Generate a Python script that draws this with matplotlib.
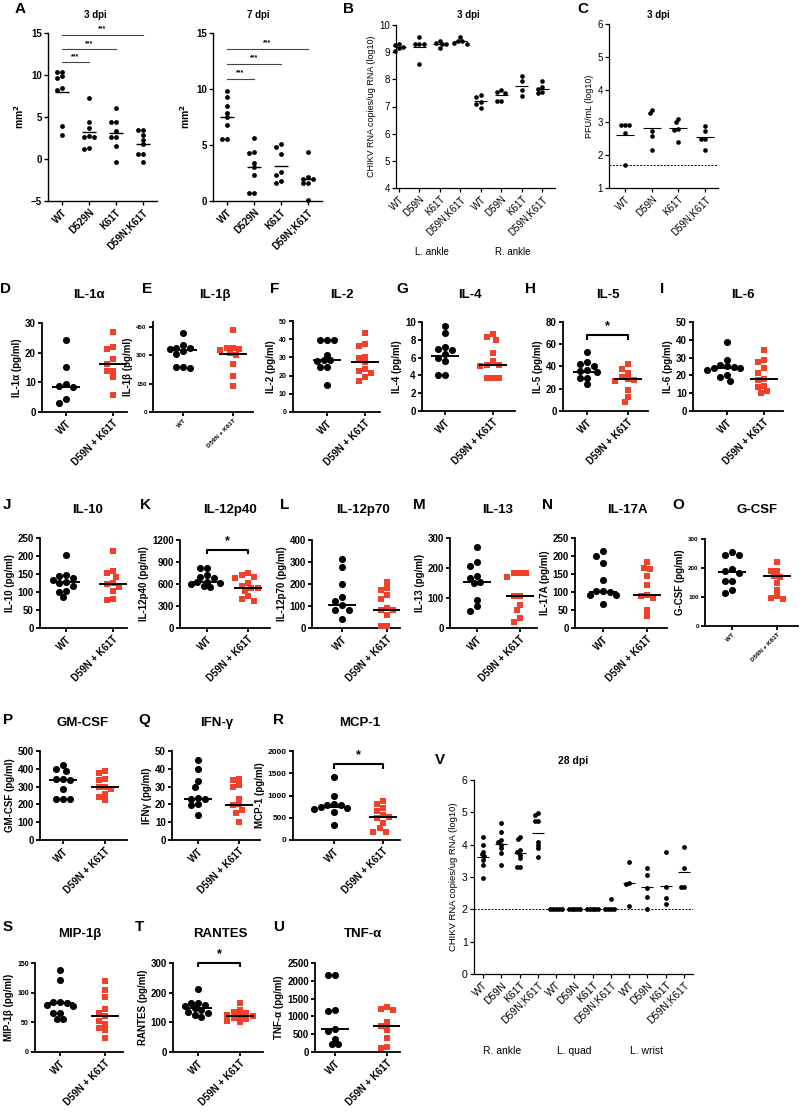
import numpy as np
import matplotlib.pyplot as plt

plt.rcParams['font.family'] = ['Liberation Sans', 'DejaVu Sans']

# ---------------- data ----------------
# A: lesion area (mm2)
a_groups = ['WT', 'D529N', 'K61T', 'D59N;K61T']
a3_wt = [10.4, 10.3, 9.9, 9.7, 8.4, 8.2, 3.9, 2.9]
a3_d529n = [7.3, 4.4, 3.7, 2.7, 2.6, 2.6, 1.3, 1.2]
a3_k61t = [6.1, 4.4, 4.4, 3.3, 2.6, 2.6, 1.6, -0.4]
a3_dk = [3.5, 3.5, 2.9, 2.3, 1.8, 0.6, 0.6, -0.3]
a3_mid = [8.0, 3.2, 3.1, 1.8]
a3_sig = [11.5, 13.1, 14.8]
a7_wt = [9.8, 9.3, 8.5, 7.9, 7.5, 6.8, 5.5, 5.5]
a7_d529n = [5.6, 4.4, 4.3, 3.4, 3.0, 2.3, 0.7, 0.7]
a7_k61t = [5.1, 4.8, 4.2, 2.6, 2.3, 1.8, 1.6]
a7_dk = [4.4, 2.1, 2.0, 2.0, 1.6, 1.6, 0.1]
a7_mid = [7.5, 3.05, 3.1, 2.0]
a7_sig = [10.9, 12.25, 13.6]

# B: CHIKV RNA 3 dpi
bc_groups = ['WT', 'D59N', 'K61T', 'D59N;K61T']
b_l_wt = [9.25, 9.3, 9.15, 9.05, 9.2]
b_l_d59n = [9.55, 9.3, 9.3, 9.3, 8.55]
b_l_k61t = [9.3, 9.42, 9.3, 9.15, 9.35]
b_l_dk = [9.55, 9.42, 9.35, 9.4, 9.3]
b_r_wt = [7.42, 7.35, 7.15, 7.1, 6.95]
b_r_d59n = [7.6, 7.55, 7.5, 7.22, 7.2]
b_r_k61t = [8.12, 7.93, 7.6, 7.4]
b_r_dk = [7.95, 7.7, 7.65, 7.55, 7.48]
b_mid = [9.2, 9.2, 9.3, 9.4, 7.2, 7.43, 7.77, 7.65]

# C: PFU 3 dpi
c_wt = [2.91, 2.91, 2.91, 2.68, 1.71]
c_d59n = [3.39, 3.29, 2.74, 2.59, 2.17]
c_k61t = [3.1, 3.0, 2.8, 2.78, 2.4]
c_dk = [2.9, 2.74, 2.5, 2.5, 2.17]
c_mid = [2.63, 2.84, 2.82, 2.56]
c_limit = 1.71

# V: CHIKV RNA 28 dpi
v_ra_wt = [4.23, 3.98, 3.78, 3.71, 3.65, 3.53, 3.36, 2.96]
v_ra_d59n = [4.66, 4.4, 4.14, 4.09, 3.99, 3.89, 3.73, 3.37]
v_ra_k61t = [4.23, 4.16, 3.84, 3.78, 3.68, 3.58, 3.3, 3.3]
v_ra_dk = [4.97, 4.92, 4.73, 4.73, 4.09, 3.99, 3.89, 3.63]
v_lq_wt = [2.0, 2.0, 2.0, 2.0, 2.0]
v_lq_d59n = [2.0, 2.0, 2.0, 2.0, 2.0]
v_lq_k61t = [2.0, 2.0, 2.0, 2.0, 2.0]
v_lq_dk = [2.31, 2.0, 2.0, 2.0, 2.0]
v_lw_wt = [3.47, 2.8, 2.78, 2.1]
v_lw_d59n = [3.27, 3.06, 2.65, 2.37, 2.0]
v_lw_k61t = [3.78, 2.68, 2.34, 2.16]
v_lw_dk = [3.92, 3.27, 2.7, 2.7]
v_mid = [3.63, 4.03, 3.73, 4.37, 2.0, 2.0, 2.0, 2.05, 2.8, 2.68, 2.73, 3.16]
v_limit = 2.0

# D-U: cytokines (pg/ml), WT vs D59N + K61T
cyto_groups = ['WT', 'D59N + K61T']
il1a_wt = [24.2, 15.1, 9.5, 8.6, 8.4, 4.3, 3.2]
il1a_mut = [26.8, 22.0, 21.2, 17.8, 16.2, 13.9, 13.9, 11.9, 5.6]
il1a_mid = [8.4, 16.2]
il1b_wt = [415, 354, 340, 336, 330, 320, 305, 240, 236, 234]
il1b_mut = [432, 339, 339, 335, 326, 310, 300, 253, 192, 136]
il1b_mid = [326, 308]
il2_wt = [39.3, 39.3, 39.3, 31.5, 28.6, 28.4, 28.2, 24.9, 24.9, 14.6]
il2_mut = [43.4, 37.5, 36.2, 30.4, 29.5, 27.2, 23.4, 22.5, 21.2, 19.5, 17.2]
il2_mid = [28.4, 27.2]
il4_wt = [9.5, 8.8, 7.2, 7.0, 6.8, 6.4, 6.0, 5.6, 4.1, 4.1]
il4_mut = [8.6, 8.3, 8.0, 6.5, 5.6, 5.2, 5.15, 5.1, 3.7, 3.7, 3.7]
il4_mid = [6.2, 5.15]
il5_wt = [53, 44, 42, 40, 37, 36, 35, 30, 30, 24]
il5_mut = [42, 38, 34, 31, 28.5, 28, 27, 18.5, 13, 8]
il5_mid = [35, 28.5]
il6_wt = [39, 28.6, 26, 25, 24.5, 24.3, 24, 23, 20, 19, 17]
il6_mut = [34.5, 28.5, 27.5, 24, 21.5, 17.8, 17.5, 14, 13.5, 11, 10]
il6_mid = [24.3, 17.8]
il10_wt = [204, 148, 144, 140, 132, 128, 125, 116, 102, 100, 86]
il10_mut = [213, 157, 153, 143, 125, 123, 115, 102, 80, 79]
il10_mid = [128, 123]
il12p40_wt = [815, 815, 725, 700, 680, 634, 630, 620, 600, 566, 560]
il12p40_mut = [747, 720, 700, 680, 620, 570, 552, 550, 500, 430, 390, 370]
il12p40_mid = [634, 552]
il12p70_wt = [314, 276, 199, 143, 121, 103, 83, 83, 42]
il12p70_mut = [211, 181, 174, 150, 130, 90, 83, 80, 60, 8, 8]
il12p70_mid = [103, 83]
il13_wt = [270, 220, 208, 172, 167, 155, 150, 94, 72, 58]
il13_mut = [183, 183, 183, 170, 108, 108, 78, 61, 32, 20]
il13_mid = [153, 108]
il17a_wt = [213, 201, 180, 134, 102, 102, 100, 93, 93, 67]
il17a_mut = [182, 167, 164, 145, 120, 93, 90, 83, 51, 32]
il17a_mid = [101, 91]
gcsf_wt = [255, 246, 244, 197, 189, 183, 156, 154, 125, 114]
gcsf_mut = [220, 188, 188, 171, 168, 148, 125, 102, 97, 93]
gcsf_mid = [185, 171]
gmcsf_wt = [420, 400, 390, 345, 340, 335, 285, 228, 228, 228]
gmcsf_mut = [386, 379, 340, 336, 300, 295, 289, 260, 240, 224]
gmcsf_mid = [339, 295]
ifng_wt = [44.8, 40, 33, 30, 23.5, 23.3, 23, 20, 19.5, 14]
ifng_mut = [34.5, 33.6, 31, 30, 23.3, 20, 19.5, 17, 15, 10]
ifng_mid = [23.3, 19.6]
mcp1_wt = [1420, 1000, 800, 790, 780, 740, 730, 700, 640, 340]
mcp1_mut = [880, 800, 710, 650, 570, 525, 500, 380, 260, 190, 180]
mcp1_mid = [735, 525]
mip1b_wt = [138, 121, 85, 85, 83, 79, 78, 66, 66, 56, 56]
mip1b_mut = [120, 105, 93, 72, 65, 60, 52, 48, 41, 37, 24]
mip1b_mid = [83, 60]
rantes_wt = [212, 165, 165, 160, 155, 148, 140, 135, 130, 125, 118]
rantes_mut = [165, 140, 135, 130, 125, 122, 120, 115, 110, 105, 100]
rantes_mid = [148, 122]
tnfa_wt = [2150, 2150, 1170, 1150, 655, 600, 375, 234, 234]
tnfa_mut = [1264, 1220, 1170, 843, 720, 608, 400, 140, 100]
tnfa_mid = [655, 720]

RED = '#f2402a'
W, H = 800, 1113
fig = plt.figure(figsize=(W / 100, H / 100), dpi=100)


def add_box(box):
    l, t, r, b = box
    return fig.add_axes([l / W, 1 - b / H, (r - l) / W, (b - t) / H])


def ftext(x, y, s, **kw):
    fig.text(x / W, 1 - y / H, s, **kw)


def style(ax, lw):
    for s in ('top', 'right'):
        ax.spines[s].set_visible(False)
    for s in ('left', 'bottom'):
        ax.spines[s].set_linewidth(lw)
    ax.tick_params(direction='out', width=lw, length=3, pad=1.5)


def swarm(vals, ylim, h, d):
    # deterministic beeswarm: pixel offsets so markers don't overlap
    ys = (np.asarray(vals, float) - ylim[0]) / (ylim[1] - ylim[0]) * h
    cand = sorted([k * d / 2 for k in range(-10, 11)], key=abs)
    placed, offs = [], np.zeros(len(ys))
    for i in np.argsort(-ys, kind='stable'):
        for x in cand:
            if all((x - px) ** 2 + (ys[i] - py) ** 2 >= (0.9 * d) ** 2 for px, py in placed):
                break
        offs[i] = x
        placed.append((x, ys[i]))
    return offs


def draw_group(ax, box, xc, vals, mid, d, half, mlw=1.0, **kw):
    l, t, r, b = box
    x0, x1 = ax.get_xlim()
    k = (x1 - x0) / (r - l)
    xs = xc + swarm(vals, ax.get_ylim(), b - t, d) * k
    ax.scatter(xs, vals, clip_on=False, zorder=3, linewidths=0, **kw)
    ax.plot([xc - half * k, xc + half * k], [mid, mid], color='k',
            lw=mlw, zorder=4, solid_capstyle='butt')


def xlim_from(box, p0, p1, n):
    l, t, r, b = box
    sp = (p1 - p0) / (n - 1)
    return (l - p0) / sp, (n - 1) + (r - p1) / sp


# ---------------- panel A ----------------
for vals, mids, sig, box, ylim, title, tx in [
        ([a3_wt, a3_d529n, a3_k61t, a3_dk], a3_mid, a3_sig, (48, 33, 157, 201), (-5, 15), '3 dpi', 95),
        ([a7_wt, a7_d529n, a7_k61t, a7_dk], a7_mid, a7_sig, (213, 33, 322, 201), (0, 15), '7 dpi', 258)]:
    ax = add_box(box)
    ax.set_ylim(*ylim)
    ax.set_xlim(*xlim_from(box, box[0] + 14, box[0] + 95, 4))
    style(ax, 1.0)
    for i, v in enumerate(vals):
        draw_group(ax, box, i, v, mids[i], 4.6, 7, s=12, color='k')
    ax.set_yticks(np.arange(ylim[0], 16, 5))
    ax.set_xticks(range(4))
    ax.set_xticklabels(a_groups, rotation=45, ha='right', rotation_mode='anchor',
                       fontsize=7, fontweight='bold')
    for lab in ax.get_yticklabels():
        lab.set_fontsize(7)
        lab.set_fontweight('bold')
    ax.set_ylabel('mm$^\\mathbf{2}$', fontsize=7.5, fontweight='bold', labelpad=3)
    for j, y in enumerate(sig):
        ax.plot([0, j + 1], [y, y], color='#444444', lw=0.8, clip_on=False)
        ax.text((j + 1) / 2, y + 0.25, '***', ha='center', va='bottom', fontsize=5, fontweight='bold')
    ftext(tx, 15, title, ha='center', va='center', fontsize=7, fontweight='bold')

ftext(15, 2, 'A', fontsize=11, fontweight='bold', va='top')

# ---------------- panel B ----------------
box = (396, 25, 555, 188)
ax = add_box(box)
ax.set_ylim(4, 10)
ax.set_xlim(*xlim_from(box, 399, 542, 8))
style(ax, 0.9)
for i, v in enumerate([b_l_wt, b_l_d59n, b_l_k61t, b_l_dk, b_r_wt, b_r_d59n, b_r_k61t, b_r_dk]):
    draw_group(ax, box, i, v, b_mid[i], 4.3, 6.5, mlw=0.8, s=11, color='k')
ax.set_yticks(range(4, 11))
ax.set_xticks(range(8))
ax.set_xticklabels(bc_groups * 2, rotation=45, ha='right', rotation_mode='anchor', fontsize=7)
ax.tick_params(axis='y', labelsize=7)
ax.set_ylabel('CHIKV RNA copies/ug RNA (log10)', fontsize=6.5, labelpad=2)
ftext(432, 252, 'L. ankle', ha='center', va='center', fontsize=7)
ftext(513, 252, 'R. ankle', ha='center', va='center', fontsize=7)
ftext(468, 15, '3 dpi', ha='center', va='center', fontsize=7, fontweight='bold')
ftext(343, 2, 'B', fontsize=11, fontweight='bold', va='top')

# ---------------- panel C ----------------
box = (609, 24, 718, 188)
ax = add_box(box)
ax.set_ylim(1, 6)
ax.set_xlim(*xlim_from(box, 625, 705, 4))
style(ax, 0.9)
for i, v in enumerate([c_wt, c_d59n, c_k61t, c_dk]):
    draw_group(ax, box, i, v, c_mid[i], 4.3, 9, mlw=0.8, s=11, color='k')
ax.axhline(c_limit, color='k', lw=0.7, ls=(0, (2, 1.5)))
ax.set_yticks(range(1, 7))
ax.set_xticks(range(4))
ax.set_xticklabels(bc_groups, rotation=45, ha='right', rotation_mode='anchor', fontsize=7)
ax.tick_params(axis='y', labelsize=7)
ax.set_ylabel('PFU/mL (log10)', fontsize=6.5, labelpad=2)
ftext(658, 15, '3 dpi', ha='center', va='center', fontsize=7, fontweight='bold')
ftext(577, 2, 'C', fontsize=11, fontweight='bold', va='top')

# ---------------- panel V ----------------
box = (474, 780, 693, 974)
ax = add_box(box)
ax.set_ylim(0, 6)
ax.set_xlim(*xlim_from(box, 483, 684, 12))
style(ax, 0.9)
v_all = [v_ra_wt, v_ra_d59n, v_ra_k61t, v_ra_dk, v_lq_wt, v_lq_d59n, v_lq_k61t, v_lq_dk,
         v_lw_wt, v_lw_d59n, v_lw_k61t, v_lw_dk]
for i, v in enumerate(v_all):
    draw_group(ax, box, i, v, v_mid[i], 2.8, 6, mlw=0.8, s=12, color='k')
ax.axhline(v_limit, color='k', lw=0.7, ls=(0, (2, 1.5)))
ax.set_yticks(range(0, 7))
ax.set_xticks(range(12))
ax.set_xticklabels(bc_groups * 3, rotation=45, ha='right', rotation_mode='anchor', fontsize=7.5)
ax.tick_params(axis='y', labelsize=7.5)
ax.set_ylabel('CHIKV RNA copies/ug RNA (log10)', fontsize=6.8, labelpad=3)
for x, s in [(502, 'R. ankle'), (574, 'L. quad'), (647, 'L. wrist')]:
    ftext(x, 1051, s, ha='center', va='center', fontsize=7.5)
ftext(573, 761, '28 dpi', ha='center', va='center', fontsize=7.5, fontweight='bold')
ftext(435, 753, 'V', fontsize=11, fontweight='bold', va='top')

# ---------------- panels D-U ----------------
cyto = [
    ('D', 'IL-1α', 'IL-1α (pg/ml)', il1a_wt, il1a_mut, il1a_mid, 30, 10, (42, 323, 127, 412), 66, 113, 7, None, 0, 282, 89, 295),
    ('E', 'IL-1β', 'IL-1β (pg/ml)', il1b_wt, il1b_mut, il1b_mid, 475, 150, (153, 322, 253, 412), 183, 233, 4.5, None, 142, 282, 215, 295),
    ('F', 'IL-2', 'IL-2 (pg/ml)', il2_wt, il2_mut, il2_mid, 50, 10, (293, 321, 380, 412), 327, 365, 5, None, 270, 282, 342, 295),
    ('G', 'IL-4', 'IL-4 (pg/ml)', il4_wt, il4_mut, il4_mid, 10, 2, (422, 322, 515, 411), 445, 493, 7, None, 396, 282, 470, 295),
    ('H', 'IL-5', 'IL-5 (pg/ml)', il5_wt, il5_mut, il5_mid, 80, 20, (563, 322, 648, 411), 587, 628, 7, 68, 525, 282, 608, 295),
    ('I', 'IL-6', 'IL-6 (pg/ml)', il6_wt, il6_mut, il6_mid, 50, 10, (693, 322, 783, 411), 727, 764, 7, None, 660, 282, 743, 295),
    ('J', 'IL-10', 'IL-10 (pg/ml)', il10_wt, il10_mut, il10_mid, 250, 50, (40, 538, 127, 628), 66, 113, 7, None, 3, 498, 88, 510),
    ('K', 'IL-12p40', 'IL-12p40 (pg/ml)', il12p40_wt, il12p40_mut, il12p40_mid, 1200, 300, (180, 540, 270, 628), 207, 248, 7, 1064, 140, 498, 230, 510),
    ('L', 'IL-12p70', 'IL-12p70 (pg/ml)', il12p70_wt, il12p70_mut, il12p70_mid, 400, 100, (312, 540, 400, 628), 342, 387, 7, None, 280, 498, 363, 510),
    ('M', 'IL-13', 'IL-13 (pg/ml)', il13_wt, il13_mut, il13_mid, 300, 100, (450, 538, 537, 628), 477, 520, 7, None, 413, 498, 498, 510),
    ('N', 'IL-17A', 'IL-17A (pg/ml)', il17a_wt, il17a_mut, il17a_mid, 250, 50, (575, 538, 667, 628), 603, 647, 7, None, 542, 498, 627, 510),
    ('O', 'G-CSF', 'G-CSF (pg/ml)', gcsf_wt, gcsf_mut, gcsf_mid, 300, 100, (705, 539, 798, 626), 732, 777, 4.5, None, 672, 498, 757, 510),
    ('P', 'GM-CSF', 'GM-CSF (pg/ml)', gmcsf_wt, gmcsf_mut, gmcsf_mid, 500, 100, (40, 751, 127, 840), 63, 105, 7, None, 3, 713, 83, 723),
    ('Q', 'IFN-γ', 'IFNγ (pg/ml)', ifng_wt, ifng_mut, ifng_mid, 50, 10, (172, 751, 260, 840), 198, 239, 7, None, 138, 713, 217, 723),
    ('R', 'MCP-1', 'MCP-1 (pg/ml)', mcp1_wt, mcp1_mut, mcp1_mid, 2000, 500, (293, 751, 400, 840), 334, 383, 6, 1700, 273, 713, 360, 723),
    ('S', 'MIP-1β', 'MIP-1β (pg/ml)', mip1b_wt, mip1b_mut, mip1b_mid, 150, 50, (35, 963, 123, 1052), 60, 105, 5, None, 3, 920, 80, 934),
    ('T', 'RANTES', 'RANTES (pg/ml)', rantes_wt, rantes_mut, rantes_mid, 300, 100, (173, 963, 263, 1052), 198, 240, 7, 300, 135, 920, 220, 934),
    ('U', 'TNF-α', 'TNF-α (pg/ml)', tnfa_wt, tnfa_mut, tnfa_mid, 2500, 500, (315, 963, 400, 1052), 335, 387, 7, None, 273, 920, 363, 934),
]

for (letter, title, ylab, wt, mut, mid, ytop, ystep, box, pw, pm, tfs, sig,
     lx, ly, tx, ty) in cyto:
    ax = add_box(box)
    ax.set_ylim(0, ytop)
    ax.set_xlim(*xlim_from(box, pw, pm, 2))
    style(ax, 1.3)
    draw_group(ax, box, 0, wt, mid[0], 6.6, 14, mlw=1.4, s=26, color='k')
    draw_group(ax, box, 1, mut, mid[1], 6.4, 14, mlw=1.4, s=20, color=RED, marker='s')
    ax.set_yticks(np.arange(0, ytop + 1, ystep))
    ax.set_xticks([0, 1])
    ax.set_xticklabels(cyto_groups, rotation=45, ha='right', rotation_mode='anchor',
                       fontsize=tfs if tfs < 5 else 7, fontweight='bold')
    for lab in ax.get_yticklabels():
        lab.set_fontsize(tfs)
        lab.set_fontweight('bold')
    ax.set_ylabel(ylab, fontsize=7, fontweight='bold', labelpad=2)
    if sig is not None:
        cap = ytop * 0.05
        ax.plot([0, 0, 1, 1], [sig - cap, sig, sig, sig - cap], color='k', lw=1.5,
                clip_on=False, solid_capstyle='butt')
        ax.annotate('*', xy=(0.5, sig), xytext=(0, 2), textcoords='offset points',
                    ha='center', va='bottom', fontsize=9, fontweight='bold',
                    annotation_clip=False)
    ftext(lx, ly, letter, fontsize=11, fontweight='bold', va='top')
    ftext(tx, ty, title, ha='center', va='center', fontsize=9.5, fontweight='bold')

fig.savefig('out.png', dpi=100)
